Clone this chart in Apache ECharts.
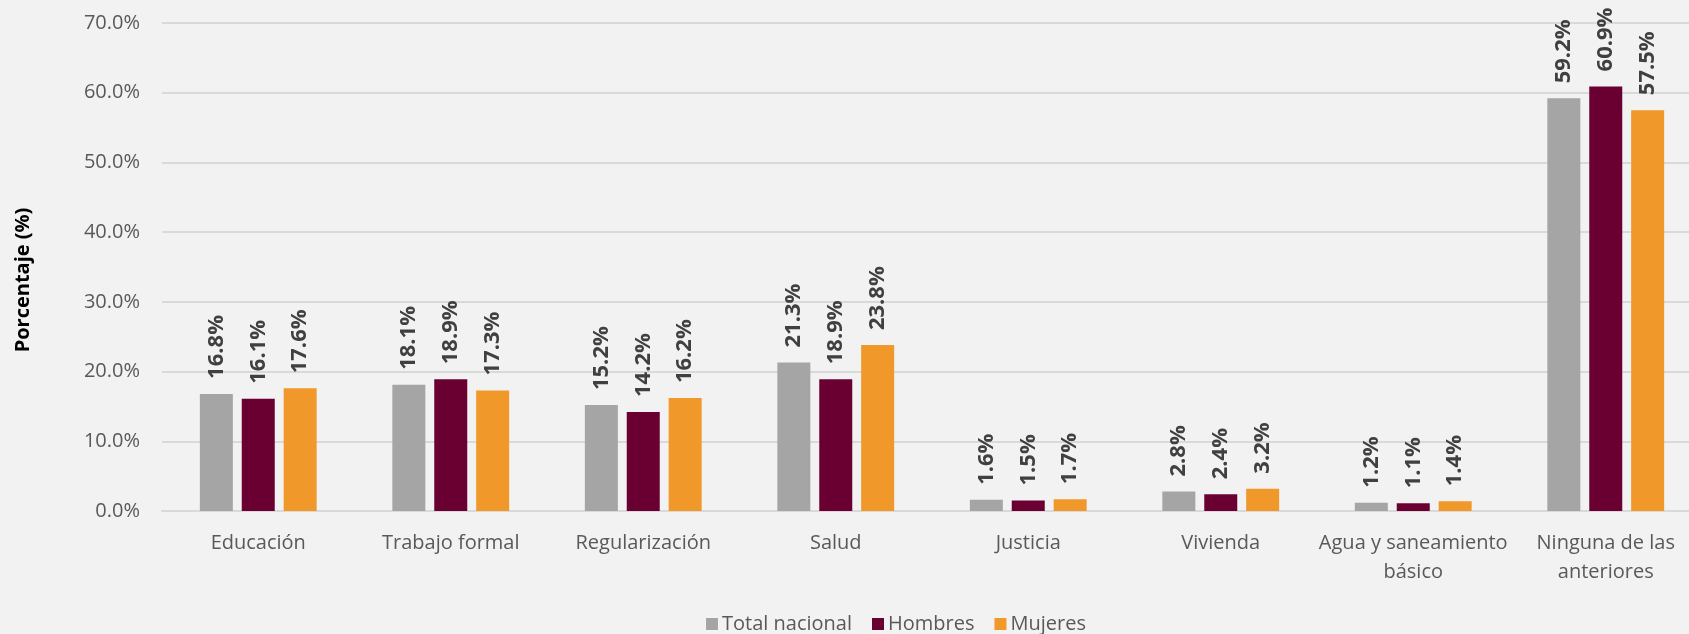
<!DOCTYPE html>
<html>
<head>
<meta charset="utf-8">
<script src="https://cdn.jsdelivr.net/npm/echarts@6/dist/echarts.min.js"></script>
<style>
html,body{margin:0;padding:0;background:#f2f2f2;}
#chart{width:1689px;height:634px;}
</style>
</head>
<body>
<div id="chart"></div>
<script>
const categories = ['Educación', 'Trabajo formal', 'Regularización', 'Salud', 'Justicia', 'Vivienda', 'Agua y saneamiento\nbásico', 'Ninguna de las\nanteriores'];
const seriesNames = ['Total nacional', 'Hombres', 'Mujeres'];
const totalNacional = [16.8, 18.1, 15.2, 21.3, 1.6, 2.8, 1.2, 59.2];
const hombres = [16.1, 18.9, 14.2, 18.9, 1.5, 2.4, 1.1, 60.9];
const mujeres = [17.6, 17.3, 16.2, 23.8, 1.7, 3.2, 1.4, 57.5];
const yAxisTitle = 'Porcentaje (%)';
const colors = ['#a5a5a5', '#6a0032', '#f0982a'];

const FONT = '"Open Sans", "Noto Sans", sans-serif';
const chart = echarts.init(document.getElementById('chart'));
const mk = (name, data, color) => ({
  name: name,
  type: 'bar',
  data: data,
  barWidth: 33,
  barGap: '27%',
  itemStyle: { color: color },
  label: {
    show: true,
    position: 'top',
    rotate: 90,
    align: 'left',
    verticalAlign: 'middle',
    distance: 15,
    formatter: p => p.value.toFixed(1) + '%',
    fontFamily: FONT,
    fontWeight: 'bold',
    fontSize: 22,
    color: '#404040'
  }
});
chart.setOption({
  backgroundColor: '#f2f2f2',
  animation: false,
  grid: { left: 162, top: 23, width: 1540, height: 488, containLabel: false, outerBoundsMode: 'none' },
  graphic: [{
    type: 'text',
    x: 23,
    y: 280,
    rotation: Math.PI / 2,
    style: {
      text: yAxisTitle,
      fontFamily: FONT,
      fontWeight: 'bold',
      fontSize: 20,
      fill: '#000',
      align: 'center',
      verticalAlign: 'middle'
    }
  }],
  legend: {
    left: 701,
    top: 609,
    itemWidth: 12,
    itemHeight: 12,
    itemGap: 20,
    icon: 'rect',
    textStyle: { fontFamily: FONT, fontSize: 20, color: '#595959', padding: [0, 0, 0, -1] },
    data: seriesNames
  },
  xAxis: {
    type: 'category',
    data: categories,
    axisLine: { lineStyle: { color: '#d9d9d9', width: 2 } },
    axisTick: { show: false },
    axisLabel: {
      interval: 0,
      margin: 18,
      fontFamily: FONT,
      fontSize: 20,
      lineHeight: 29,
      color: '#595959'
    }
  },
  yAxis: {
    type: 'value',
    min: 0,
    max: 70,
    interval: 10,
    axisLine: { show: false },
    axisTick: { show: false },
    splitLine: { lineStyle: { color: '#d9d9d9', width: 2 } },
    axisLabel: {
      margin: 22,
      fontFamily: FONT,
      fontSize: 20,
      color: '#595959',
      formatter: v => v.toFixed(1) + '%'
    }
  },
  series: [
    mk(seriesNames[0], totalNacional, colors[0]),
    mk(seriesNames[1], hombres, colors[1]),
    mk(seriesNames[2], mujeres, colors[2])
  ]
});
</script>
</body>
</html>
